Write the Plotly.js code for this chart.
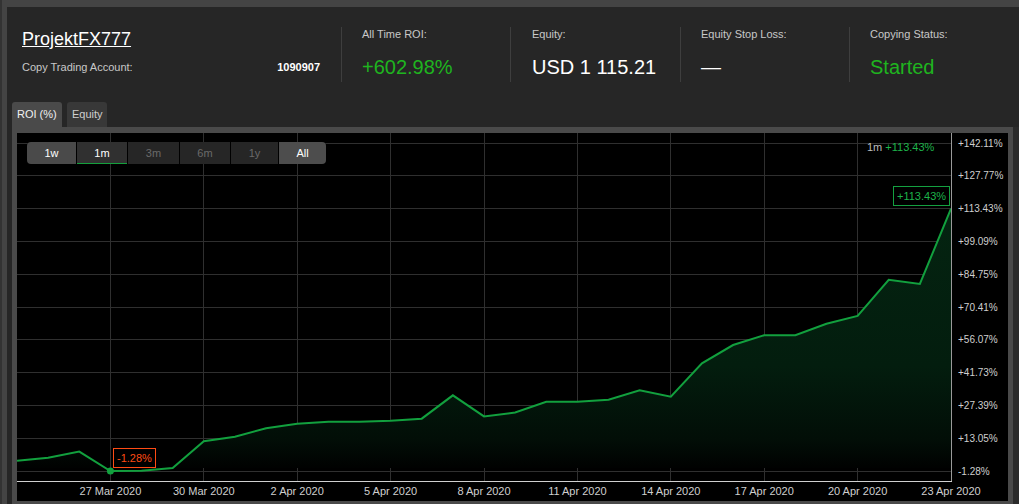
<!DOCTYPE html>
<html>
<head>
<meta charset="utf-8">
<script src="https://cdn.plot.ly/plotly-3.0.1.min.js"></script>
<style>
  html, body { margin:0; padding:0; }
  body { width:1019px; height:504px; position:relative; overflow:hidden; background:#262626;
         font-family:"Liberation Sans", Arial, Helvetica, sans-serif; }
  .abs { position:absolute; white-space:nowrap; line-height:1; }
  .lbl { font-size:11px; color:#c8c8c8; }
  .big { font-size:20px; }
  .sep { position:absolute; top:27px; width:1px; height:55px; background:#3e3e3e; }
  .btn { position:absolute; top:142px; height:22px; line-height:22px; text-align:center; font-size:11px; }
</style>
</head>
<body>
<!-- outer frame -->
<div class="abs" style="left:0;top:0;width:1019px;height:7px;background:#444;"></div>
<div class="abs" style="left:0;top:0;width:7px;height:504px;background:#444;"></div>
<div class="abs" style="left:0;top:0;width:2px;height:504px;background:#333;"></div>

<!-- header -->
<div class="abs" style="left:22px;top:30px;font-size:18px;color:#fff;text-decoration:underline;">ProjektFX777</div>
<div class="abs lbl" style="left:22px;top:62px;">Copy Trading Account:</div>
<div class="abs" style="right:699px;top:62px;font-size:11px;color:#fff;font-weight:bold;">1090907</div>
<div class="sep" style="left:341px;"></div>
<div class="sep" style="left:510px;"></div>
<div class="sep" style="left:680px;"></div>
<div class="sep" style="left:849px;"></div>

<div id="lbl1" class="abs lbl" style="left:362px;top:29px;"></div>
<div id="val1" class="abs big" style="left:362px;top:57px;color:#1fb41f;"></div>
<div id="lbl2" class="abs lbl" style="left:532px;top:29px;"></div>
<div id="val2" class="abs big" style="left:532px;top:57px;color:#fff;"></div>
<div id="lbl3" class="abs lbl" style="left:701px;top:29px;"></div>
<div id="val3" class="abs big" style="left:701px;top:57px;color:#fff;"></div>
<div id="lbl4" class="abs lbl" style="left:870px;top:29px;"></div>
<div id="val4" class="abs big" style="left:870px;top:57px;color:#1fb41f;"></div>

<!-- tabs -->
<div class="abs" style="left:12px;top:102px;width:50px;height:25px;background:#4a4a4a;border-radius:3px 3px 0 0;"></div>
<div class="abs" style="left:17px;top:109px;font-size:11px;color:#f0f0f0;">ROI (%)</div>
<div class="abs" style="left:67px;top:102px;width:40px;height:25px;background:#383838;border-radius:3px 3px 0 0;"></div>
<div class="abs" style="left:72px;top:109px;font-size:11px;color:#cfcfcf;">Equity</div>

<!-- chart panel -->
<div class="abs" style="left:12px;top:127px;width:1001px;height:377px;background:#4a4a4a;"></div>
<div class="abs" style="left:1013px;top:127px;width:6px;height:377px;background:#2b2b2b;"></div>
<div id="chart" class="abs" style="left:17px;top:133px;width:991px;height:368px;background:#000;"></div>

<!-- range buttons -->
<div class="abs" style="left:27px;top:142px;width:299px;height:22px;background:#000;border-radius:4px;"></div>
<div class="btn" style="left:27px;width:49px;background:#4a4a4a;color:#fff;border-radius:4px 0 0 4px;">1w</div>
<div class="btn" style="left:77px;width:50px;background:#303030;color:#fff;box-shadow:inset 0 -1px 0 #14a03c;">1m</div>
<div class="btn" style="left:128px;width:51px;background:#262626;color:#6a6a6a;">3m</div>
<div class="btn" style="left:180px;width:50px;background:#262626;color:#6a6a6a;">6m</div>
<div class="btn" style="left:231px;width:47px;background:#262626;color:#6a6a6a;">1y</div>
<div class="btn" style="left:279px;width:47px;background:#4d4d4d;color:#fff;border-radius:0 4px 4px 0;">All</div>

<script>
// ---- data ----
const dates = [
  '2020-03-24','2020-03-25','2020-03-26','2020-03-27','2020-03-28','2020-03-29','2020-03-30',
  '2020-03-31','2020-04-01','2020-04-02','2020-04-03','2020-04-04','2020-04-05','2020-04-06',
  '2020-04-07','2020-04-08','2020-04-09','2020-04-10','2020-04-11','2020-04-12','2020-04-13',
  '2020-04-14','2020-04-15','2020-04-16','2020-04-17','2020-04-18','2020-04-19','2020-04-20',
  '2020-04-21','2020-04-22','2020-04-23'
];
const roi = [
  3.2, 4.5, 7.2, -1.28, -1.2, 0.0, 11.7,
  13.7, 17.4, 19.4, 20.3, 20.3, 20.7, 21.6,
  31.8, 22.6, 24.3, 29.0, 29.0, 29.9, 34.0,
  31.2, 45.8, 53.8, 58.1, 58.1, 63.1, 66.5,
  82.3, 80.5, 113.43
];
const xTickVals = ['2020-03-27','2020-03-30','2020-04-02','2020-04-05','2020-04-08','2020-04-11','2020-04-14','2020-04-17','2020-04-20','2020-04-23'];
const xTickText = ['27 Mar 2020','30 Mar 2020','2 Apr 2020','5 Apr 2020','8 Apr 2020','11 Apr 2020','14 Apr 2020','17 Apr 2020','20 Apr 2020','23 Apr 2020'];
const yTickVals = [-1.28, 13.05, 27.39, 41.73, 56.07, 70.41, 84.75, 99.09, 113.43, 127.77, 142.11];
const yTickText = ['-1.28%','+13.05%','+27.39%','+41.73%','+56.07%','+70.41%','+84.75%','+99.09%','+113.43%','+127.77%','+142.11%'];
const statLabels = ['All Time ROI:', 'Equity:', 'Equity Stop Loss:', 'Copying Status:'];
const statValues = ['+602.98%', 'USD 1 115.21', '\u2014', 'Started'];
const periodLabel = '1m';

statLabels.forEach((t,i)=>{ document.getElementById('lbl'+(i+1)).textContent = t; });
statValues.forEach((t,i)=>{ document.getElementById('val'+(i+1)).textContent = t; });

const fmt = v => (v >= 0 ? '+' : '') + v.toFixed(2) + '%';
let minIdx = 0;
roi.forEach((v,i)=>{ if (v < roi[minIdx]) minIdx = i; });
const lastIdx = roi.length - 1;

const GREEN = '#12a03e';
const traces = [
  {
    x: dates, y: roi, type: 'scatter', mode: 'lines',
    line: { color: GREEN, width: 2 },
    fill: 'tozeroy',
    fillcolor: 'rgba(4,40,20,0.6)',
    fillgradient: { type: 'vertical', colorscale: [
      [0, 'rgb(0,0,0)'], [0.12, 'rgb(2,14,7)'], [0.4, 'rgb(3,29,14)'], [1, 'rgb(4,36,17)']
    ] },
    hoverinfo: 'skip'
  },
  {
    x: [dates[minIdx]], y: [roi[minIdx]], type: 'scatter', mode: 'markers',
    marker: { color: GREEN, size: 7 }, hoverinfo: 'skip'
  }
];

const layout = {
  width: 991, height: 368,
  margin: { l: 0, r: 57, t: 0, b: 20, pad: 0 },
  paper_bgcolor: '#000', plot_bgcolor: '#000',
  showlegend: false,
  font: { family: '"Liberation Sans", Arial, sans-serif', color: '#cfcfcf' },
  xaxis: {
    type: 'date', range: ['2020-03-24', '2020-04-23'],
    tickvals: xTickVals, ticktext: xTickText,
    tickfont: { size: 11, color: '#cfcfcf' },
    showgrid: true, gridcolor: '#2f2f2f', gridwidth: 1,
    showline: true, linecolor: '#d0d0d0', linewidth: 1,
    ticks: '', zeroline: false, automargin: false, fixedrange: true,
    ticklabelstandoff: 0
  },
  yaxis: {
    side: 'right', range: [-5.65, 146.5],
    tickvals: yTickVals, ticktext: yTickText,
    tickfont: { size: 10, color: '#cfcfcf' },
    showgrid: true, gridcolor: '#2f2f2f', gridwidth: 1,
    showline: true, linecolor: '#9a9a9a', linewidth: 1,
    ticks: '', zeroline: false, automargin: false, fixedrange: true,
    ticklabelstandoff: 4
  },
  annotations: [
    {
      x: dates[minIdx], y: roi[minIdx], xref: 'x', yref: 'y',
      text: fmt(roi[minIdx]), showarrow: false,
      xanchor: 'left', yanchor: 'bottom', xshift: 3, yshift: 3,
      font: { size: 11, color: '#ff4b14' },
      bordercolor: '#ff4b14', borderwidth: 1, borderpad: 3, bgcolor: '#000'
    },
    {
      x: dates[lastIdx], y: roi[lastIdx], xref: 'x', yref: 'y',
      text: fmt(roi[lastIdx]), showarrow: false,
      xanchor: 'right', yanchor: 'bottom', xshift: -1, yshift: 3,
      font: { size: 11, color: '#1db34a' },
      bordercolor: '#14a040', borderwidth: 1, borderpad: 3, bgcolor: '#000'
    },
    {
      x: 1, y: 1, xref: 'paper', yref: 'paper',
      text: periodLabel + ' <span style="color:#1db34a">' + fmt(roi[lastIdx]) + '</span>',
      showarrow: false, xanchor: 'right', yanchor: 'top', xshift: -14, yshift: -6,
      font: { size: 11, color: '#bdbdbd' }
    }
  ]
};

Plotly.newPlot('chart', traces, layout, { displayModeBar: false, staticPlot: true });
</script>
</body>
</html>
